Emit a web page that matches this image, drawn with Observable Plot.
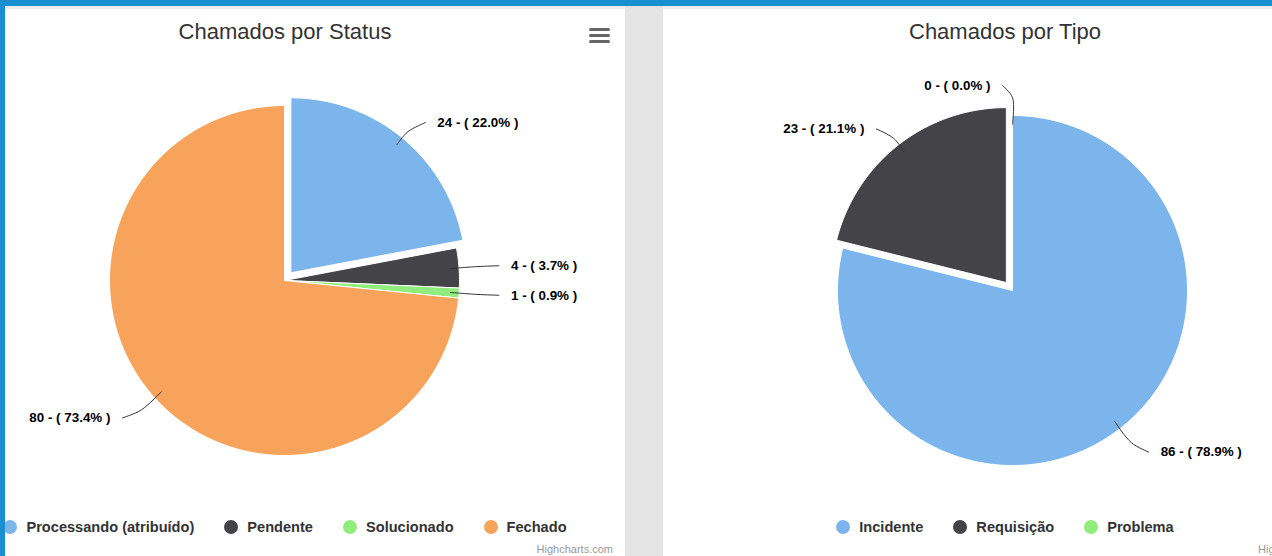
<!DOCTYPE html>
<html>
<head>
<meta charset="utf-8">
<script src="https://cdn.jsdelivr.net/npm/d3@7"></script>
<script src="https://cdn.jsdelivr.net/npm/@observablehq/plot@0.6"></script>
<style>
  html, body { margin: 0; padding: 0; }
  body { width: 1272px; height: 556px; overflow: hidden; background: #e4e4e4; position: relative;
         font-family: "Liberation Sans", Arial, Helvetica, sans-serif; }
  .abs { position: absolute; }
  .panel { position: absolute; top: 9px; height: 547px; background: #fff; overflow: hidden; }
  .title { position: absolute; top: 12px; width: 680px; text-align: center; font-size: 22px; line-height: 22px; color: #333; }
  .legend { position: absolute; top: 509px; width: 680px; height: 18px; display: flex; justify-content: center; align-items: center;
            font-size: 14.6px; font-weight: bold; color: #333; }
  .item { display: flex; align-items: center; margin: 0 15px; white-space: nowrap; }
  .sym { width: 14px; height: 14px; border-radius: 50%; margin-right: 9px; flex: none; }
  .credit { position: absolute; top: 534px; font-size: 11px; color: #999; white-space: nowrap; }
  .bar { position: absolute; left: 584px; width: 21px; height: 3px; background: #666; border-radius: 1.5px; }
  .chart { position: absolute; left: 0; top: 0; }
</style>
</head>
<body>
<div class="abs" style="left:0;top:0;width:1272px;height:6px;background:#1a8fcf"></div>
<div class="abs" style="left:5px;top:6px;width:620px;height:3px;background:#ececec"></div>
<div class="abs" style="left:663px;top:6px;width:609px;height:3px;background:#ececec"></div>
<div class="abs" style="left:0;top:0;width:5px;height:556px;background:#1a8fcf;z-index:5"></div>

<div class="panel" id="left" style="left:5px;width:620px;">
  <div class="chart" id="chartLeft"></div>
  <div class="title" style="left:-60px">Chamados por Status</div>
  <div class="bar" style="top:19px"></div>
  <div class="bar" style="top:25px"></div>
  <div class="bar" style="top:31px"></div>
  <div class="legend" id="legendLeft" style="left:-60px"></div>
  <div class="credit" style="right:12px">Highcharts.com</div>
</div>

<div class="panel" id="right" style="left:663px;width:609px;">
  <div class="chart" id="chartRight"></div>
  <div class="title" style="left:2px">Chamados por Tipo</div>
  <div class="legend" id="legendRight" style="left:2px"></div>
  <div class="credit" style="left:595px">Highcharts.com</div>
</div>

<script>
// ---- data ----
const statusCategories = ["Processando (atribuído)", "Pendente", "Solucionado", "Fechado"];
const statusValues = [24, 4, 1, 80];
const statusSliced = "Processando (atribuído)";

const tipoCategories = ["Incidente", "Requisição", "Problema"];
const tipoValues = [86, 23, 0];
const tipoSliced = "Requisição";

const palette = ["#7cb5ec", "#434348", "#90ed7d", "#f7a35c"];

// ---- pie builder ----
function pieChart(cats, vals, sliced, opts) {
  const {width, height, cx, cy, r} = opts;
  const total = d3.sum(vals);
  const arcs = d3.pie().sort(null).value(d => d)(vals);
  const slicePts = [], connPts = [], labels = [];
  const off = 10 / r, dist = 30 / r;
  arcs.forEach((a, i) => {
    const cat = cats[i];
    const mid = (a.startAngle + a.endAngle) / 2;
    const s = cat === sliced ? off : 0;
    const ox = s * Math.sin(mid), oy = s * Math.cos(mid);
    if (a.endAngle - a.startAngle > 0) {
      slicePts.push({x: ox, y: oy, cat});
      const n = Math.max(2, Math.ceil((a.endAngle - a.startAngle) / (Math.PI / 180)));
      for (let k = 0; k <= n; k++) {
        const t = a.startAngle + (a.endAngle - a.startAngle) * k / n;
        slicePts.push({x: ox + Math.sin(t), y: oy + Math.cos(t), cat});
      }
      slicePts.push({x: ox, y: oy, cat});
    }
    const side = mid < Math.PI ? 1 : -1;
    const dx = Math.sin(mid), dy = Math.cos(mid);
    const lx = (1 + dist) * dx, ly = (1 + dist) * dy;
    connPts.push({x: ox + 0.95 * dx, y: oy + 0.95 * dy, cat});
    connPts.push({x: (1 + 18 / r) * dx, y: (1 + 18 / r) * dy, cat});
    connPts.push({x: lx + side * 10 / r, y: ly, cat});
    const pct = total ? (vals[i] / total * 100).toFixed(1) : "0.0";
    labels.push({x: lx + side * 22 / r, y: ly, text: `${vals[i]} - ( ${pct}% )`, anchor: side > 0 ? "start" : "end"});
  });
  const labStart = labels.filter(d => d.anchor === "start");
  const labEnd = labels.filter(d => d.anchor === "end");
  return Plot.plot({
    width, height,
    margin: 0,
    x: {domain: [-1, 1], range: [cx - r, cx + r], axis: null},
    y: {domain: [-1, 1], range: [cy + r, cy - r], axis: null},
    color: {domain: cats, range: palette},
    style: {background: "transparent", fontFamily: '"Liberation Sans", Arial, sans-serif', overflow: "visible"},
    marks: [
      Plot.line(slicePts, {x: "x", y: "y", z: "cat", fill: "cat", stroke: "#ffffff", strokeWidth: 1, strokeLinejoin: "round", curve: "linear"}),
      Plot.line(connPts, {x: "x", y: "y", z: "cat", stroke: "#333", strokeWidth: 1, curve: "catmull-rom"}),
      Plot.text(labStart, {x: "x", y: "y", text: "text", textAnchor: "start", fontSize: 13.4, fontWeight: "bold", fill: "#000"}),
      Plot.text(labEnd, {x: "x", y: "y", text: "text", textAnchor: "end", fontSize: 13.4, fontWeight: "bold", fill: "#000"})
    ]
  });
}

function legend(el, cats) {
  cats.forEach((c, i) => {
    const it = document.createElement("div");
    it.className = "item";
    const s = document.createElement("span");
    s.className = "sym";
    s.style.background = palette[i];
    const t = document.createElement("span");
    t.textContent = c;
    it.appendChild(s); it.appendChild(t);
    el.appendChild(it);
  });
}

document.getElementById("chartLeft").appendChild(
  pieChart(statusCategories, statusValues, statusSliced, {width: 620, height: 547, cx: 279, cy: 271, r: 175}));
document.getElementById("chartRight").appendChild(
  pieChart(tipoCategories, tipoValues, tipoSliced, {width: 609, height: 547, cx: 349, cy: 281, r: 175}));
legend(document.getElementById("legendLeft"), statusCategories);
legend(document.getElementById("legendRight"), tipoCategories);
</script>
</body>
</html>
